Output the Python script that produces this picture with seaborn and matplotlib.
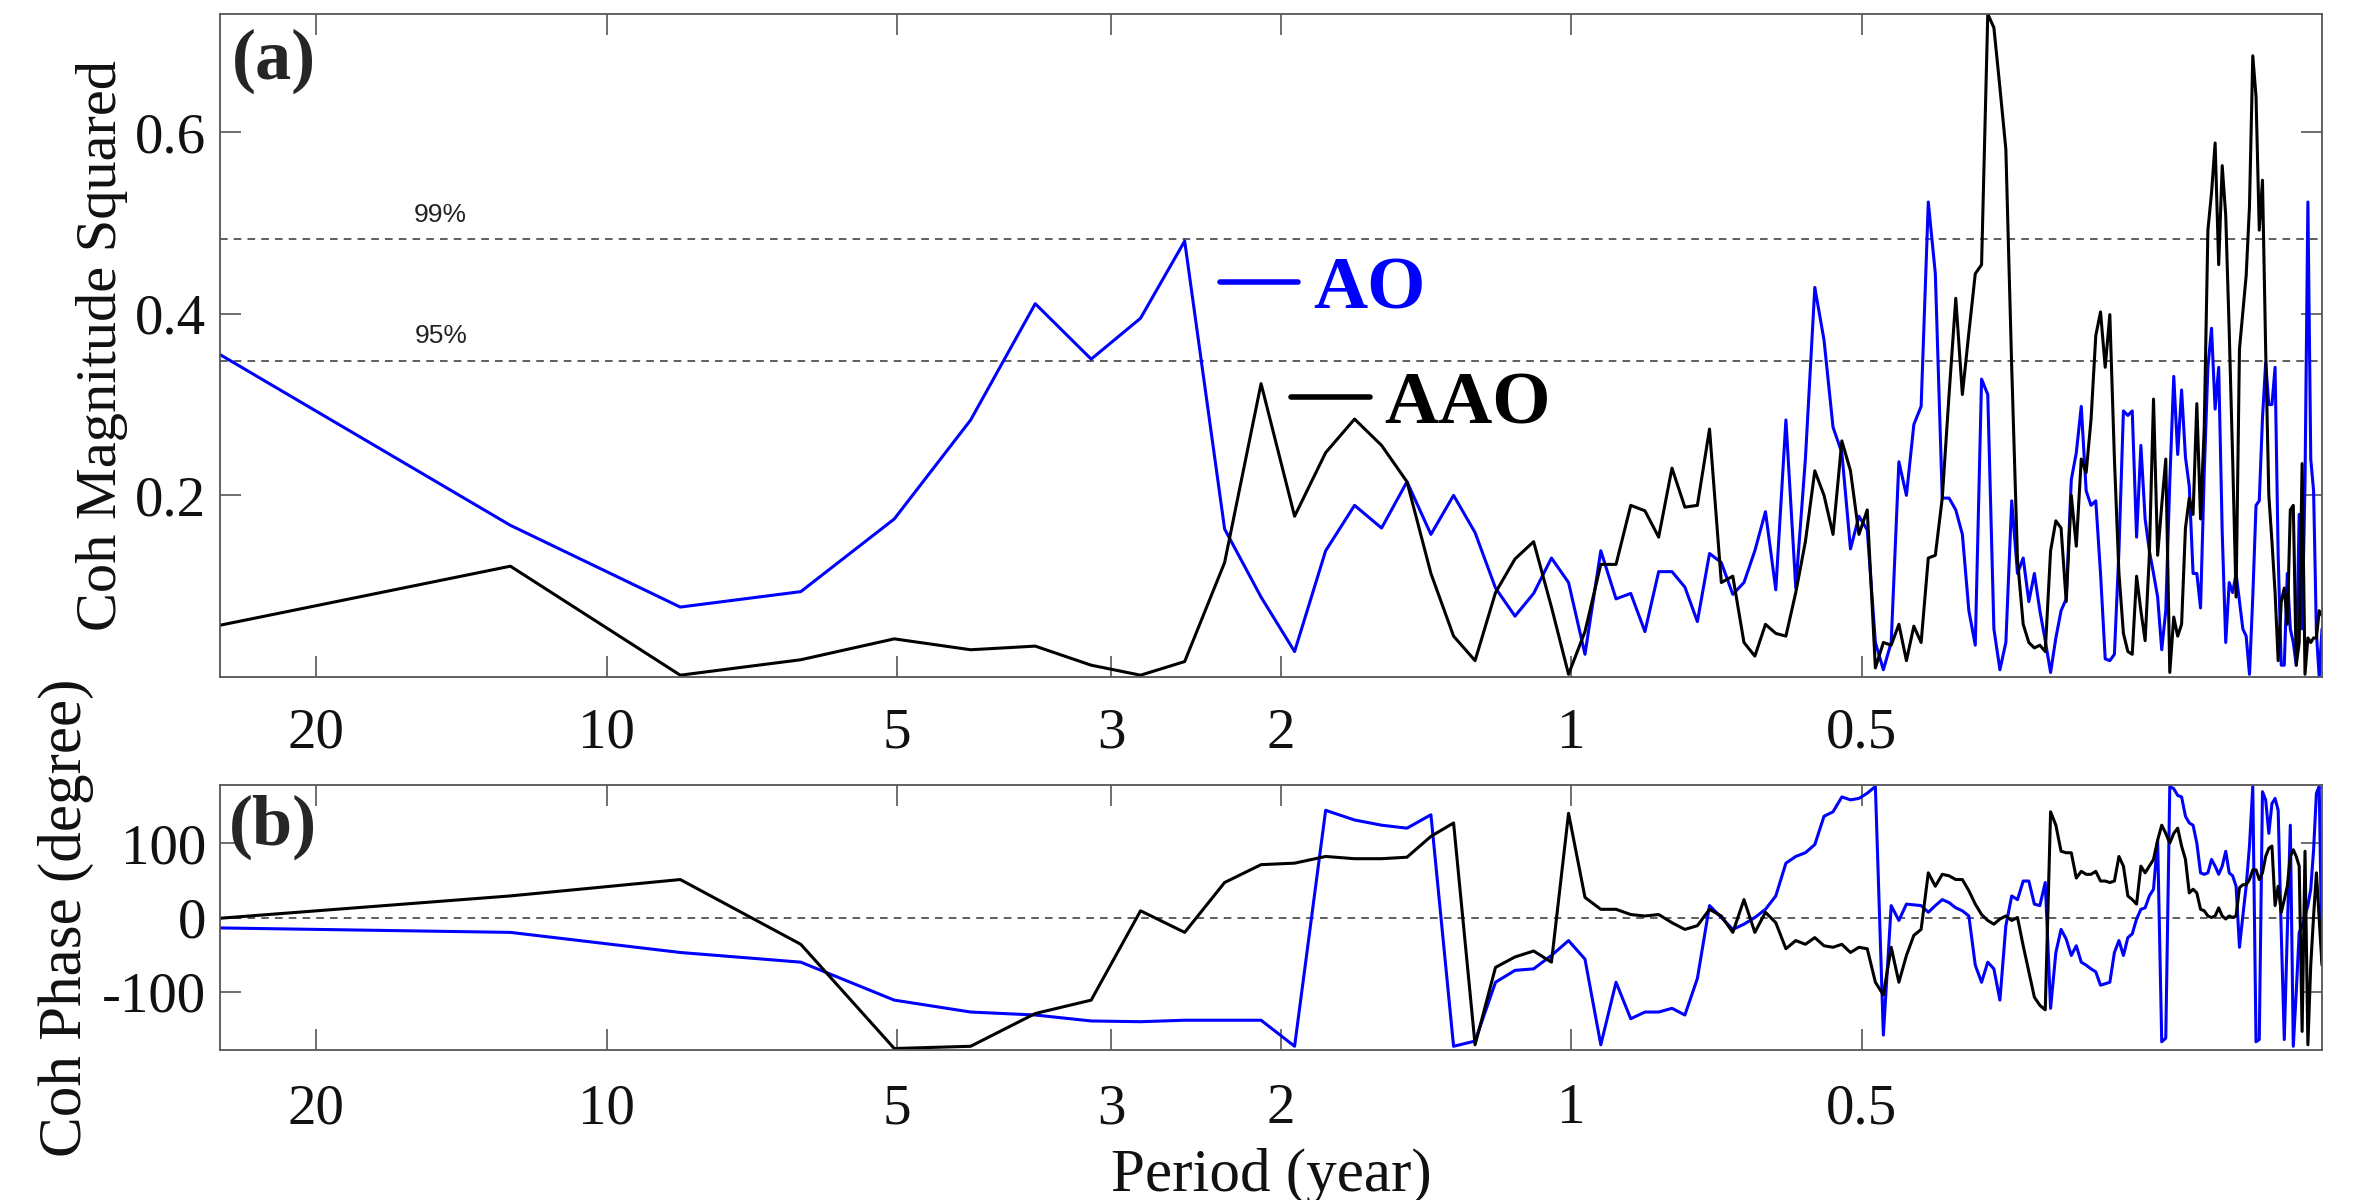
import numpy as np
import pandas as pd
import matplotlib
matplotlib.use("Agg")
import matplotlib.pyplot as plt
import matplotlib.transforms as mtransforms
from matplotlib.lines import Line2D
from matplotlib.ticker import NullLocator
import seaborn as sns

# Fourier frequencies of a 302-month record (cycles per month), harmonics 1..151
n_months = 302
harmonics = np.arange(1, 152)
period_years = n_months / (12.0 * harmonics)

# Magnitude-squared coherence with the index series
coh_ao = [
    0.355, 0.167, 0.077, 0.094, 0.174, 0.283, 0.411, 0.350, 0.395, 0.480,
    0.163, 0.088, 0.028, 0.139, 0.189, 0.164, 0.215, 0.157, 0.200, 0.159,
    0.098, 0.067, 0.092, 0.131, 0.104, 0.025, 0.139, 0.086, 0.092, 0.050,
    0.116, 0.116, 0.099, 0.061, 0.136, 0.126, 0.091, 0.104, 0.139, 0.182,
    0.096, 0.283, 0.098, 0.240, 0.429, 0.371, 0.275, 0.247, 0.141, 0.177,
    0.162, 0.038, 0.008, 0.038, 0.237, 0.200, 0.278, 0.298, 0.523, 0.444,
    0.197, 0.197, 0.184, 0.157, 0.073, 0.035, 0.328, 0.311, 0.053, 0.008,
    0.038, 0.194, 0.114, 0.131, 0.083, 0.114, 0.073, 0.040, 0.005, 0.043,
    0.073, 0.086, 0.217, 0.247, 0.298, 0.205, 0.189, 0.194, 0.114, 0.020,
    0.018, 0.025, 0.139, 0.293, 0.288, 0.293, 0.154, 0.255, 0.174, 0.139,
    0.114, 0.088, 0.030, 0.073, 0.215, 0.331, 0.245, 0.316, 0.242, 0.210,
    0.114, 0.114, 0.076, 0.225, 0.341, 0.384, 0.295, 0.341, 0.159, 0.038,
    0.104, 0.093, 0.114, 0.083, 0.053, 0.045, 0.003, 0.088, 0.189, 0.194,
    0.285, 0.346, 0.300, 0.300, 0.341, 0.134, 0.013, 0.013, 0.114, 0.053,
    0.038, 0.013, 0.179, 0.053, 0.215, 0.523, 0.240, 0.205, 0.048, 0.000,
    0.053,
]
coh_aao = [
    0.057, 0.122, 0.002, 0.019, 0.042, 0.030, 0.034, 0.013, 0.002, 0.017,
    0.126, 0.323, 0.177, 0.247, 0.284, 0.255, 0.215, 0.114, 0.045, 0.018,
    0.093, 0.130, 0.149, 0.077, 0.003, 0.050, 0.124, 0.124, 0.189, 0.183,
    0.154, 0.230, 0.187, 0.189, 0.273, 0.104, 0.111, 0.038, 0.023, 0.058,
    0.048, 0.045, 0.093, 0.149, 0.227, 0.200, 0.157, 0.260, 0.227, 0.157,
    0.184, 0.010, 0.038, 0.035, 0.058, 0.018, 0.056, 0.038, 0.131, 0.134,
    0.197, 0.311, 0.417, 0.311, 0.379, 0.444, 0.454, 0.730, 0.715, 0.649,
    0.581, 0.341, 0.129, 0.058, 0.038, 0.032, 0.035, 0.028, 0.139, 0.172,
    0.164, 0.083, 0.200, 0.144, 0.240, 0.225, 0.283, 0.376, 0.402, 0.341,
    0.399, 0.240, 0.114, 0.048, 0.028, 0.025, 0.111, 0.073, 0.040, 0.134,
    0.306, 0.134, 0.189, 0.240, 0.005, 0.066, 0.045, 0.058, 0.164, 0.197,
    0.179, 0.301, 0.174, 0.275, 0.492, 0.533, 0.588, 0.454, 0.563, 0.508,
    0.381, 0.240, 0.088, 0.361, 0.402, 0.442, 0.518, 0.684, 0.639, 0.492,
    0.547, 0.361, 0.200, 0.149, 0.093, 0.018, 0.083, 0.098, 0.058, 0.184,
    0.189, 0.013, 0.038, 0.235, 0.003, 0.043, 0.038, 0.043, 0.043, 0.073,
    0.068,
]

# Coherence phase (degrees)
phase_ao = [
    -14, -20, -47, -60, -111, -127, -131, -139, -140, -138,
    -138, -138, -173, 144, 131, 124, 120, 138, -173, -166,
    -87, -71, -69, -51, -31, -56, -171, -87, -136, -127,
    -127, -122, -131, -82, 16, 0, -16, -9, 0, 11,
    29, 73, 82, 87, 98, 136, 142, 162, 158, 160,
    167, 176, -158, 16, -4, 18, 17, 16, 7, 16,
    24, 20, 13, 9, 2, -64, -87, -60, -69, -111,
    -11, 29, 24, 49, 49, 18, 16, 47, -122, -47,
    -16, -29, -51, -38, -60, -64, -69, -73, -91, -89,
    -87, -47, -31, -51, -27, -22, -2, 11, 13, 29,
    38, 104, -167, -162, 176, 173, 164, 162, 136, 127,
    124, 100, 60, 58, 60, 78, 69, 58, 69, 89,
    60, 56, 42, -40, 2, 42, 96, 176, -167, -164,
    169, 158, 113, 153, 160, 144, -20, -164, -20, 124,
    -173, -100, -20, -11, 2, 16, 38, 91, 167, 176,
    -60,
]
phase_aao = [
    -1, 29, 51, -36, -176, -173, -129, -111, 9, -20,
    47, 71, 73, 82, 79, 79, 81, 109, 127, -171,
    -67, -53, -45, -60, 140, 27, 11, 11, 4, 2,
    4, -7, -16, -11, 11, 2, -20, 24, -20, 7,
    -7, -42, -31, -36, -27, -38, -40, -36, -47, -40,
    -42, -87, -104, -40, -87, -51, -24, -16, 60, 42,
    58, 56, 51, 51, 36, 18, 4, -4, -9, -2,
    2, -4, 0, -38, -73, -107, -118, -124, 142, 124,
    89, 87, 87, 53, 62, 58, 58, 62, 49, 49,
    47, 49, 82, 69, 29, 24, 18, 69, 60, 69,
    78, 104, 124, 113, 100, 113, 120, 96, 78, 33,
    38, 33, 11, 9, 2, 0, 2, 13, 2, -2,
    2, 0, 2, 40, 44, 44, 51, 64, 64, 51,
    60, 82, 93, 96, 16, 42, 7, 24, 42, 82,
    91, 82, 69, -153, 89, -171, -64, 2, 60, -2,
    -64,
]

series_names = ["AO", "AAO"]
series_colors = {"AO": "#0000ff", "AAO": "#000000"}
sig_levels = [0.482, 0.348]
sig_labels = ["99%", "95%"]
period_ticks = [20, 10, 5, 3, 2, 1, 0.5]
period_tick_labels = ["20", "10", "5", "3", "2", "1", "0.5"]

coh_df = pd.DataFrame({
    "period": np.concatenate([period_years, period_years]),
    "value": coh_ao + coh_aao,
    "index": ["AO"] * len(coh_ao) + ["AAO"] * len(coh_aao),
})
phase_df = pd.DataFrame({
    "period": np.concatenate([period_years, period_years]),
    "value": phase_ao + phase_aao,
    "index": ["AO"] * len(phase_ao) + ["AAO"] * len(phase_aao),
})

sns.set_theme(style="white")
plt.rcParams["font.family"] = ["Liberation Serif", "DejaVu Serif"]

W, H = 2365, 1200
fig = plt.figure(figsize=(W / 100, H / 100), dpi=100, facecolor="white")

left, right = 220, 2322
ax_a = fig.add_axes([left / W, 1 - 677 / H, (right - left) / W, (677 - 14) / H])
ax_b = fig.add_axes([left / W, 1 - 1050 / H, (right - left) / W, (1050 - 785) / H])

spine_color = "#555555"
for ax in (ax_a, ax_b):
    ax.set_xscale("log")
    ax.set_facecolor("white")

line_kw = dict(x="period", y="value", hue="index", hue_order=["AO", "AAO"],
               palette=series_colors, estimator=None, sort=False, legend=False,
               linewidth=2.2)
sns.lineplot(data=coh_df, ax=ax_a, **line_kw)
sns.lineplot(data=phase_df, ax=ax_b, **line_kw)

dash = (0, (5, 4))
for lvl, lab in zip(sig_levels, sig_labels):
    ax_a.axhline(lvl, color="#333333", lw=1.1, ls=dash, zorder=1)
    trans = mtransforms.blended_transform_factory(ax_a.transAxes, ax_a.transData)
    ax_a.text(0.105, lvl + 0.027, lab, transform=trans, ha="center", va="center",
              fontsize=19, family=["Liberation Sans", "DejaVu Sans"], color="#222222")
ax_b.axhline(0, color="#333333", lw=1.1, ls=dash, zorder=1)

for ax in (ax_a, ax_b):
    ax.set_xlim(period_years[0], period_years[-1])
    ax.set_xticks(period_ticks)
    ax.set_xticklabels(period_tick_labels)
    ax.xaxis.set_minor_locator(NullLocator())
    ax.tick_params(axis="both", which="major", direction="in", length=15, width=1.2,
                   color=spine_color, labelcolor="#111111", labelsize=41,
                   top=True, right=True, bottom=True, left=True)
    ax.tick_params(axis="y", pad=10)
    for s in ax.spines.values():
        s.set_color(spine_color)
        s.set_linewidth(1.3)
        s.set_visible(True)
ax_a.tick_params(axis="x", pad=22)
ax_b.tick_params(axis="x", pad=24)

ax_a.set_ylim(0, 0.73)
ax_a.set_yticks([0.2, 0.4, 0.6])
ax_a.set_yticklabels(["0.2", "0.4", "0.6"])
ax_b.set_ylim(-178, 178)
ax_b.set_yticks([-100, 0, 100])
ax_b.set_yticklabels(["-100", "0", "100"])

ax_a.set_xlabel("")
ax_a.set_ylabel("Coh Magnitude Squared", fontsize=42, color="#111111")
ax_a.yaxis.set_label_coords(-0.044, 0.5)
ax_b.set_ylabel("Coh Phase (degree)", fontsize=44, color="#111111")
ax_b.yaxis.set_label_coords(-0.060, 0.5)
ax_b.set_xlabel("Period (year)", fontsize=44, color="#111111")
ax_b.xaxis.set_label_coords(0.5, -0.37)

ax_a.text(0.0057, 0.928, "(a)", transform=ax_a.transAxes, fontsize=52,
          fontweight="bold", ha="left", va="center")
ax_b.text(0.004, 0.84, "(b)", transform=ax_b.transAxes, fontsize=52,
          fontweight="bold", ha="left", va="center")

# Series key: two single-entry keys, offset from each other
leg_kw = dict(frameon=False, loc="center left", borderaxespad=0, borderpad=0,
              handlelength=1.05, handletextpad=0.2,
              prop={"weight": "bold", "size": 54})
h_ao = Line2D([], [], color=series_colors["AO"], lw=4)
h_aao = Line2D([], [], color=series_colors["AAO"], lw=4)
leg1 = ax_a.legend([h_ao], ["AO"], bbox_to_anchor=(0.4755, 0.584),
                   labelcolor=series_colors["AO"], **leg_kw)
ax_a.add_artist(leg1)
ax_a.legend([h_aao], ["AAO"], bbox_to_anchor=(0.5095, 0.41),
            labelcolor=series_colors["AAO"], **leg_kw)

fig.savefig("out.png", dpi=100, facecolor="white")
